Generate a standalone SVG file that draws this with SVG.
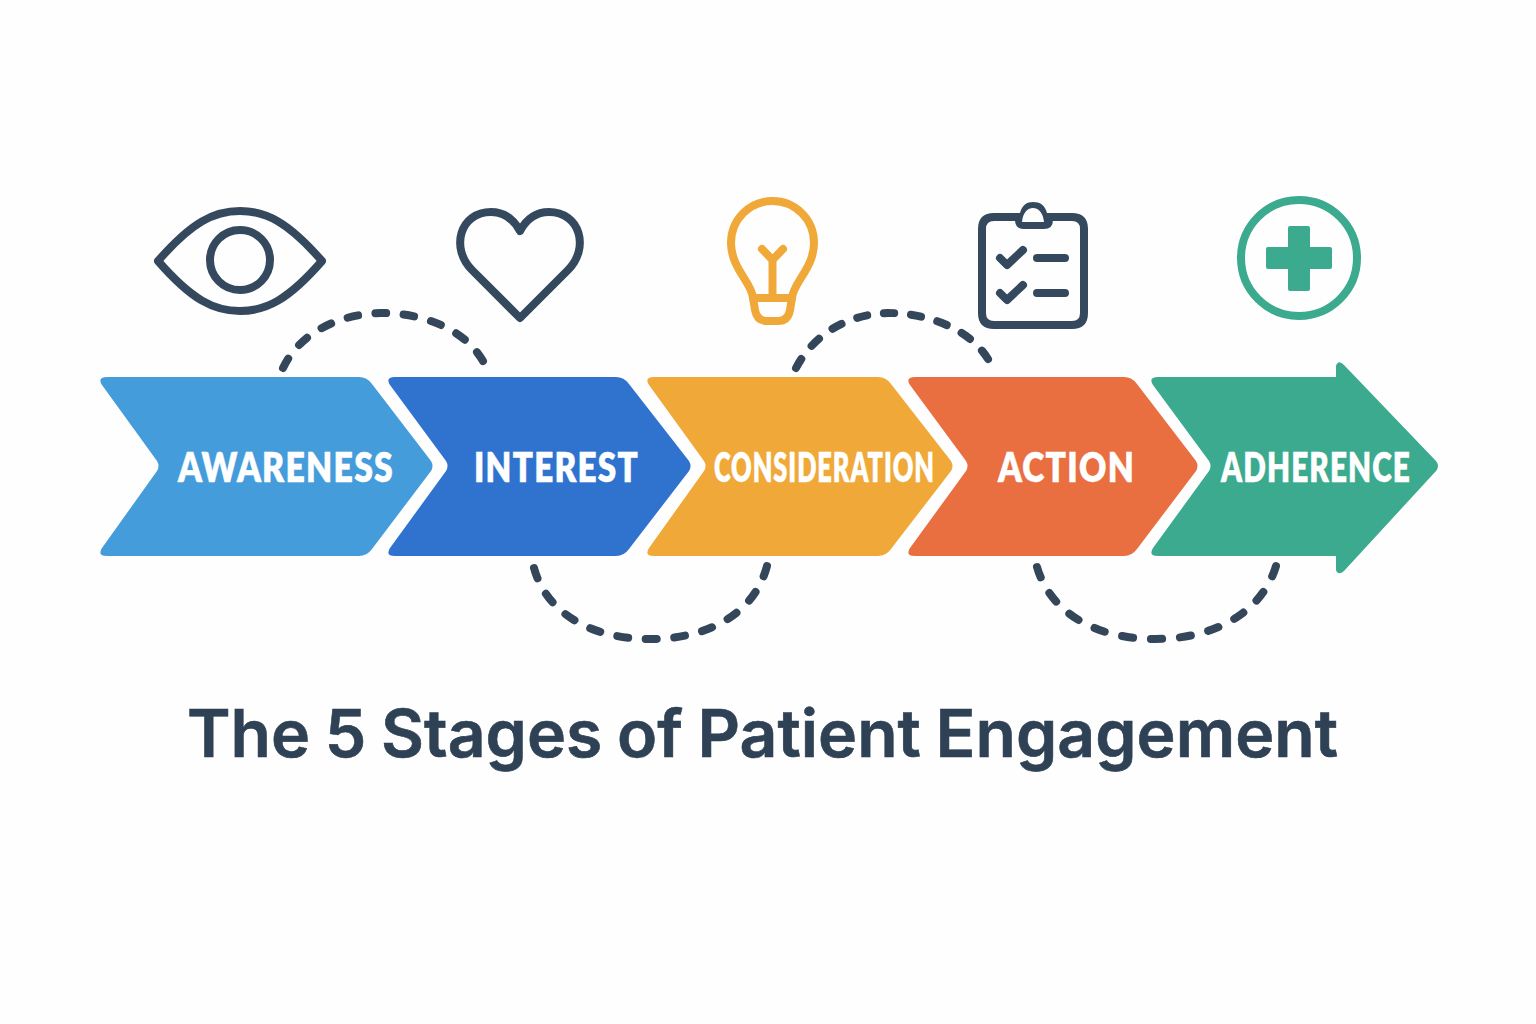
<svg xmlns="http://www.w3.org/2000/svg" width="1536" height="1024" viewBox="0 0 1536 1024">
<style>
.lbl{font-family:"Lato","Liberation Sans",sans-serif;font-weight:800;font-size:41px;fill:#fff;stroke:#fff;stroke-width:.5px;letter-spacing:1.5px}
.ic{fill:none;stroke:#34495e;stroke-width:8;stroke-linecap:round;stroke-linejoin:round}
.bulb{stroke:#f0a938}
.dark{fill:#34495e}
.dash{fill:none;stroke:#34465a;stroke-width:8;stroke-linecap:round;stroke-dasharray:.38 .62}
.title{font-family:"Inter","Liberation Sans",sans-serif;font-weight:600;font-size:66px;fill:#2f4155;stroke:#2f4155;stroke-width:.6px;word-spacing:-2px}
</style>
<rect width="1536" height="1024" fill="#fefefe"/>
<g id="connectors">
<path class="dash" pathLength="8.38" d="M283 368C300 332 340 314 381 313C425 313 465 330 483 361"/>
<path class="dash" pathLength="10.38" d="M534 568C546 612 590 639 650 639C710 639 755 612 767 566"/>
<path class="dash" pathLength="8.38" d="M796 368C815 332 850 314 888 313C930 313 970 330 988 359"/>
<path class="dash" pathLength="10.38" d="M1037 567C1050 612 1095 639 1155 639C1215 639 1262 612 1276 566"/>
</g>
<g id="node-awareness">
<path fill="#459cdb" d="M107 377H359Q367 377 372 384L431 461Q434 466 431 471L372 549Q367 556 359 556H107Q97 556 102 548L157 471Q160 466 157 461L102 385Q97 377 107 377Z"/>
<text class="lbl" x="178" y="482" textLength="216" lengthAdjust="spacingAndGlyphs">AWARENESS</text>
<g id="icon-eye"><path class="ic" d="M158 261C192 222 214 211 240 211C266 211 288 222 322 261C288 300 266 311 240 311C214 311 192 300 158 261Z"/><circle class="ic" cx="240" cy="260" r="30"/></g>
</g>
<g id="node-interest">
<path fill="#3073cf" d="M395 377H616Q624 377 629 384L689 461Q692 466 689 471L629 549Q624 556 616 556H395Q385 556 390 548L446 471Q449 466 446 461L390 385Q385 377 395 377Z"/>
<text class="lbl" x="474" y="482" textLength="165" lengthAdjust="spacingAndGlyphs">INTEREST</text>
<path class="ic" id="icon-heart" d="M520 318L472 270C450 248 460 212 491 212C505 212 514 220 520 231C526 220 535 212 549 212C580 212 590 248 568 270Z"/>
</g>
<g id="node-consideration">
<path fill="#f0a938" d="M654 377H878Q886 377 891 384L951 461Q954 466 951 471L891 549Q886 556 878 556H654Q644 556 649 548L704 471Q707 466 704 461L649 385Q644 377 654 377Z"/>
<text class="lbl" transform="translate(714 482) scale(.68 1)" textLength="325" lengthAdjust="spacingAndGlyphs">CONSIDERATION</text>
<g id="icon-bulb"><path class="ic bulb" d="M753 298C752 283 731 268 731 243C731 219 750 201 772.500 201C795 201 814 219 814 243C814 268 793 283 792 298L790 310Q788 321 778 321H767Q757 321 755 310Z"/><path class="ic bulb" d="M753 298H792M772.500 298V260M762 249L772.500 260L783 249"/></g>
</g>
<g id="node-action">
<path fill="#e96e40" d="M915 377H1124Q1132 377 1137 384L1196 461Q1199 466 1196 471L1137 549Q1132 556 1124 556H915Q905 556 910 548L966 471Q969 466 966 461L910 385Q905 377 915 377Z"/>
<text class="lbl" x="998" y="482" textLength="137" lengthAdjust="spacingAndGlyphs">ACTION</text>
<g id="icon-clipboard"><path class="ic" d="M1015 217H994Q982 217 982 229V313Q982 325 994 325H1072Q1084 325 1084 313V229Q1084 217 1072 217H1053"/><path class="dark" fill-rule="evenodd" d="M1015 213H1020C1022 205 1027 202 1033 202C1040 202 1045 205 1047 213H1053V220Q1053 229 1044 229H1024Q1015 229 1015 220ZM1022 222H1044C1043 212 1038 208 1033 208C1028 208 1023 212 1022 222Z"/><path class="ic" d="M1000 258L1007 265L1023 250M1000 293L1007 300L1023 285M1037 258H1065M1037 293H1065"/></g>
</g>
<g id="node-adherence">
<path fill="#3baa8e" d="M1158 377H1336V366Q1338 359 1344 365L1436 461Q1440 466 1436 471L1344 571Q1338 576 1336 570V556H1158Q1148 556 1153 548L1209 471Q1212 466 1209 461L1153 385Q1148 377 1158 377Z"/>
<text class="lbl" x="1221" y="482" textLength="190" lengthAdjust="spacingAndGlyphs">ADHERENCE</text>
<g id="icon-plus"><circle cx="1299" cy="258" r="58" fill="none" stroke="#3baa8e" stroke-width="8"/><path fill="#3baa8e" d="M1290 226H1308Q1310 226 1310 228V247H1330Q1332 247 1332 249V267Q1332 269 1330 269H1310V289Q1310 291 1308 291H1290Q1288 291 1288 289V269H1268Q1266 269 1266 267V249Q1266 247 1268 247H1288V228Q1288 226 1290 226Z"/></g>
</g>
<text class="title" x="187" y="757" textLength="1151" lengthAdjust="spacingAndGlyphs">The 5 Stages of Patient Engagement</text>
</svg>
